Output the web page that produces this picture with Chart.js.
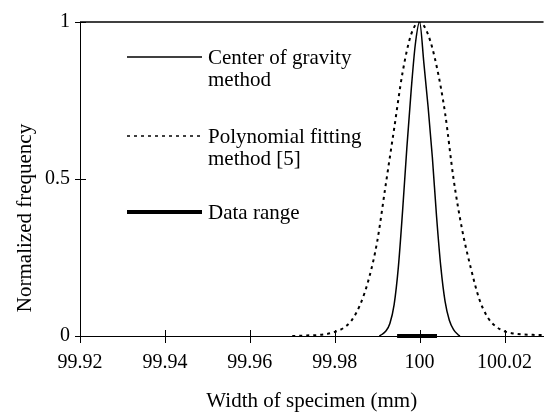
<!DOCTYPE html>
<html>
<head>
<meta charset="utf-8">
<script src="https://cdn.jsdelivr.net/npm/chart.js@4.4.0/dist/chart.umd.min.js"></script>
<style>
  html, body { margin: 0; padding: 0; background: #fff; }
  #wrap { width: 547px; height: 415px; }
</style>
</head>
<body>
<div id="wrap"><canvas id="chart"></canvas></div>
<script>
const xTicks = [99.92, 99.94, 99.96, 99.98, 100, 100.02];
const xTickLabels = ['99.92', '99.94', '99.96', '99.98', '100', '100.02'];
const yTicks = [0, 0.5, 1];
const yTickLabels = ['0', '0.5', '1'];

// center of gravity method
const cogX = [99.9905, 99.991, 99.992, 99.993, 99.994, 99.995, 99.996, 99.997, 99.998, 99.999, 100,
  100.001, 100.002, 100.003, 100.004, 100.005, 100.006, 100.007, 100.008, 100.009, 100.0095];
const cogY = [0, 0.004, 0.015, 0.04, 0.10, 0.22, 0.40, 0.60, 0.78, 0.93, 1,
  0.87, 0.73, 0.57, 0.38, 0.22, 0.11, 0.05, 0.02, 0.005, 0];

// polynomial fitting method [5]
const polyX = [99.970, 99.972, 99.974, 99.976, 99.978, 99.980, 99.982, 99.984, 99.986, 99.988,
  99.990, 99.992, 99.994, 99.996, 99.998, 100.000, 100.002, 100.004, 100.006, 100.008, 100.010,
  100.012, 100.014, 100.016, 100.018, 100.020, 100.022, 100.024, 100.026, 100.028, 100.030];
const polyY = [0, 0.001, 0.002, 0.003, 0.006, 0.013, 0.025, 0.05, 0.10, 0.18,
  0.30, 0.48, 0.66, 0.84, 0.96, 1, 0.96, 0.86, 0.71, 0.50, 0.34,
  0.22, 0.12, 0.06, 0.03, 0.015, 0.008, 0.005, 0.004, 0.003, 0.003];

// data range
const rangeX = [99.9947, 100.0041];
const rangeY = [0, 0];

const seriesNames = [['Center of gravity', 'method'], ['Polynomial fitting', 'method [5]'], ['Data range']];

const FONT = "'Liberation Serif', 'Times New Roman', serif";

function pts(xs, ys) {
  return xs.map((x, i) => ({ x: x, y: ys[i] }));
}

const extras = {
  id: 'extras',
  afterDraw(chart) {
    const ctx = chart.ctx;
    const a = chart.chartArea;
    const xs = chart.scales.x, ys = chart.scales.y;
    ctx.save();
    ctx.strokeStyle = '#000';
    ctx.lineWidth = 1;
    // crossing tick marks
    xs.ticks.forEach(t => {
      const px = Math.round(xs.getPixelForValue(t.value)) + 0.5;
      ctx.beginPath(); ctx.moveTo(px, a.bottom - 6); ctx.lineTo(px, a.bottom + 7); ctx.stroke();
    });
    ys.ticks.forEach(t => {
      const py = Math.round(ys.getPixelForValue(t.value)) + 0.5;
      ctx.beginPath(); ctx.moveTo(a.left - 5, py); ctx.lineTo(a.left + 6, py); ctx.stroke();
    });
    // top frame line
    ctx.lineWidth = 1.5;
    ctx.beginPath(); ctx.moveTo(a.left, a.top); ctx.lineTo(a.right, a.top); ctx.stroke();

    // y title
    ctx.fillStyle = '#000';
    ctx.font = '21px ' + FONT;
    ctx.textAlign = 'center';
    ctx.textBaseline = 'middle';
    ctx.save();
    ctx.translate(25, 218);
    ctx.rotate(-Math.PI / 2);
    ctx.fillText('Normalized frequency', 0, 0);
    ctx.restore();

    // legend
    const rows = [57, 136, 212];
    ctx.font = '21px ' + FONT;
    ctx.textAlign = 'left';
    chart.data.datasets.forEach((ds, i) => {
      const y = rows[i];
      ctx.save();
      ctx.strokeStyle = ds.borderColor;
      ctx.lineWidth = i === 1 ? 1.5 : ds.borderWidth;
      ctx.setLineDash(ds.borderDash || []);
      ctx.beginPath(); ctx.moveTo(127, y); ctx.lineTo(202, y); ctx.stroke();
      ctx.restore();
      seriesNames[i].forEach((line, j) => {
        ctx.fillText(line, 208, y + 1 + j * 22);
      });
    });
    ctx.restore();
  }
};

new Chart(document.getElementById('chart'), {
  type: 'line',
  data: {
    datasets: [
      {
        label: seriesNames[0].join(' '),
        data: pts(cogX, cogY),
        borderColor: '#000',
        borderWidth: 1.5,
        pointRadius: 0,
        cubicInterpolationMode: 'monotone'
      },
      {
        label: seriesNames[1].join(' '),
        data: pts(polyX, polyY),
        borderColor: '#000',
        borderWidth: 2,
        borderDash: [3, 4],
        pointRadius: 0,
        cubicInterpolationMode: 'monotone'
      },
      {
        label: seriesNames[2].join(' '),
        data: pts(rangeX, rangeY),
        borderColor: '#000',
        borderWidth: 4,
        pointRadius: 0,
        clip: false
      }
    ]
  },
  options: {
    responsive: true,
    maintainAspectRatio: false,
    animation: false,
    layout: { padding: { top: 20, right: 0, left: 0, bottom: 0 } },
    plugins: {
      legend: { display: false },
      tooltip: { enabled: false }
    },
    scales: {
      x: {
        type: 'linear',
        min: 99.92,
        max: 100.0292,
        afterBuildTicks: s => { s.ticks = xTicks.map(v => ({ value: v })); },
        afterFit: s => { s.height = 79; },
        grid: { display: false, drawTicks: false },
        border: { display: true, color: '#000', width: 1 },
        ticks: {
          autoSkip: false,
          maxRotation: 0,
          padding: 15,
          color: '#000',
          font: { family: FONT, size: 20 },
          callback: (v, i) => xTickLabels[i]
        },
        title: {
          display: true,
          text: 'Width of specimen (mm)',
          color: '#000',
          font: { family: FONT, size: 21 },
          padding: { top: 0, bottom: 1 }
        }
      },
      y: {
        min: 0,
        max: 1,
        afterBuildTicks: s => { s.ticks = yTicks.map(v => ({ value: v })); },
        afterFit: s => { s.width = 80; },
        grid: { display: false, drawTicks: false },
        border: { display: true, color: '#000', width: 1 },
        ticks: {
          padding: 10,
          color: '#000',
          font: { family: FONT, size: 20 },
          callback: (v, i) => yTickLabels[i]
        }
      }
    }
  },
  plugins: [extras]
});
</script>
</body>
</html>
